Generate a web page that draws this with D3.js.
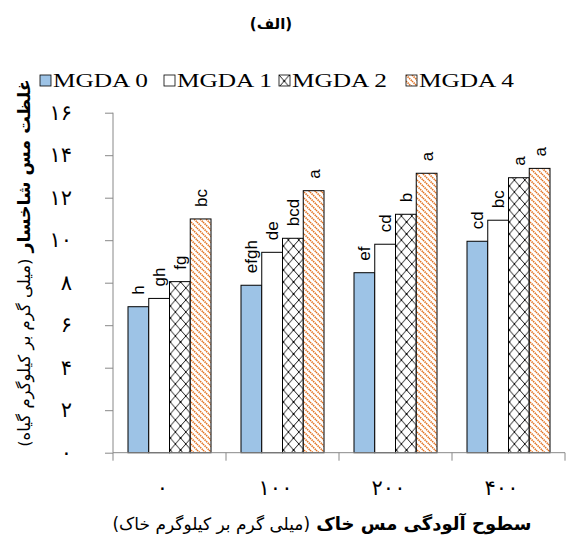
<!DOCTYPE html>
<meta charset="utf-8">
<style>
body { margin: 0; background: #fff; }
svg { display: block; }
.fa { font-family: "DejaVu Sans", sans-serif; }
</style>
<svg id="chart" width="568" height="538"></svg>
<script src="https://cdn.jsdelivr.net/npm/d3@7"></script>
<script>

var groups = ["0", "100", "200", "400"],
    series = ["MGDA 0", "MGDA 1", "MGDA 2", "MGDA 4"];

// shoot copper concentration, one array per series
var mgda0 = [6.87, 7.88, 8.47, 9.95],
    mgda1 = [7.26, 9.43, 9.81, 10.94],
    mgda2 = [8.05, 10.09, 11.22, 12.94],
    mgda4 = [11.0, 12.33, 13.15, 13.38];

var letters0 = ["h", "efgh", "ef", "cd"],
    letters1 = ["gh", "de", "cd", "bc"],
    letters2 = ["fg", "bcd", "b", "a"],
    letters4 = ["bc", "a", "a", "a"];

var yTicks = [0, 2, 4, 6, 8, 10, 12, 14, 16];

var values = [mgda0, mgda1, mgda2, mgda4],
    letters = [letters0, letters1, letters2, letters4];

function fa(s) {
  return String(s).replace(/[0-9]/g, function(c) { return "۰۱۲۳۴۵۶۷۸۹"[+c]; });
}

var svg = d3.select("#chart");

var defs = svg.append("defs");

var cross = defs.append("pattern")
    .attr("id", "cross")
    .attr("patternUnits", "userSpaceOnUse")
    .attr("width", 10.4)
    .attr("height", 12);
cross.append("rect").attr("width", 10.4).attr("height", 12).attr("fill", "#fff");
cross.append("path")
    .attr("d", "M0,0 L10.4,12 M10.4,0 L0,12")
    .attr("stroke", "#000")
    .attr("stroke-width", 0.9);
cross.append("circle").attr("cx", 5.2).attr("cy", 6).attr("r", 1).attr("fill", "#000");

var stripe = defs.append("pattern")
    .attr("id", "stripe")
    .attr("patternUnits", "userSpaceOnUse")
    .attr("width", 6)
    .attr("height", 6);
stripe.append("rect").attr("width", 6).attr("height", 6).attr("fill", "#fff");
stripe.append("path")
    .attr("d", "M-1.5,-1.5 L7.5,7.5 M-1.5,4.5 L1.5,7.5 M4.5,-1.5 L7.5,1.5")
    .attr("stroke", "#e2701e")
    .attr("stroke-width", 1.6)
    .attr("stroke-dasharray", "1.4,0.8");

var fills = ["#9dc3e6", "#fff", "url(#cross)", "url(#stripe)"];

var x0 = d3.scaleBand().domain(groups).range([113, 565]);
var x1 = d3.scaleBand().domain(series).range([15, x0.bandwidth() - 15]);
var y = d3.scaleLinear().domain([0, 16]).range([452.7, 112.7]);

// title
svg.append("text")
    .attr("class", "fa")
    .attr("x", 271)
    .attr("y", 29)
    .attr("text-anchor", "middle")
    .attr("font-size", 15)
    .attr("font-weight", "bold")
    .text("(الف)");

// legend
var legend = svg.append("g").selectAll("g")
  .data(series)
  .enter().append("g")
    .attr("transform", function(d, i) { return "translate(" + [40, 164, 279, 406][i] + ",75)"; });

legend.append("rect")
    .attr("width", 11)
    .attr("height", 11)
    .attr("fill", function(d, i) { return fills[i]; })
    .attr("stroke", "#000")
    .attr("stroke-width", 0.8);

legend.append("text")
    .attr("x", 13)
    .attr("y", 12)
    .attr("font-family", "Liberation Serif, serif")
    .attr("font-size", 18.5)
    .attr("textLength", 95)
    .attr("lengthAdjust", "spacingAndGlyphs")
    .text(function(d) { return d; });

// y axis
var yAxis = svg.append("g")
    .attr("transform", "translate(113,0)")
    .call(d3.axisLeft(y).tickValues(yTicks).tickSize(8).tickPadding(33).tickFormat(fa));

yAxis.select(".domain").attr("stroke", "#888").attr("d", "M0," + y(16) + "V" + y(0));
yAxis.selectAll(".tick line").attr("stroke", "#888");
yAxis.selectAll(".tick text")
    .attr("font-family", "DejaVu Sans, sans-serif")
    .attr("font-size", 21)
    .attr("fill", "#000");

// bars
var group = svg.append("g").selectAll("g")
  .data(groups)
  .enter().append("g")
    .attr("transform", function(d) { return "translate(" + x0(d) + ",0)"; });

var bar = group.selectAll("g")
  .data(function(d, gi) {
    return series.map(function(s, si) {
      return {s: s, si: si, v: values[si][gi], l: letters[si][gi]};
    });
  })
  .enter().append("g");

bar.append("rect")
    .attr("x", function(d) { return x1(d.s); })
    .attr("y", function(d) { return y(d.v); })
    .attr("width", x1.bandwidth())
    .attr("height", function(d) { return y(0) - y(d.v); })
    .attr("fill", function(d) { return fills[d.si]; })
    .attr("stroke", "#000")
    .attr("stroke-width", 1);

bar.append("text")
    .attr("transform", function(d) {
      return "translate(" + (x1(d.s) + x1.bandwidth() / 2 + 6) + "," + (y(d.v) - 12) + ") rotate(-90)";
    })
    .attr("font-family", "Liberation Sans, Arial, sans-serif")
    .attr("font-size", 17)
    .text(function(d) { return d.l; });

// x axis
svg.append("line")
    .attr("x1", 113).attr("x2", 565)
    .attr("y1", y(0)).attr("y2", y(0))
    .attr("stroke", "#888");

svg.append("g").selectAll("line")
  .data(groups.concat(["end"]))
  .enter().append("line")
    .attr("x1", function(d) { return d === "end" ? x0.range()[1] : x0(d); })
    .attr("x2", function(d) { return d === "end" ? x0.range()[1] : x0(d); })
    .attr("y1", y(0))
    .attr("y2", y(0) + 8)
    .attr("stroke", "#888");

svg.append("g").selectAll("text")
  .data(groups)
  .enter().append("text")
    .attr("class", "fa")
    .attr("x", function(d) { return x0(d) + x0.bandwidth() / 2 - 7; })
    .attr("y", 495)
    .attr("text-anchor", "middle")
    .attr("font-size", 21)
    .text(function(d) { return fa(d); });

// axis titles
var xTitle = svg.append("text")
    .attr("class", "fa")
    .attr("x", 322)
    .attr("y", 530)
    .attr("text-anchor", "middle")
    .attr("direction", "rtl")
    .attr("font-size", 17);
xTitle.append("tspan").attr("font-weight", "bold").attr("font-size", 18).text("سطوح آلودگی مس خاک ");
xTitle.append("tspan").text("(میلی گرم بر کیلوگرم خاک)");

var yTitle = svg.append("text")
    .attr("class", "fa")
    .attr("transform", "translate(30,263) rotate(-90)")
    .attr("text-anchor", "middle")
    .attr("direction", "rtl")
    .attr("font-size", 16.5);
yTitle.append("tspan").attr("font-weight", "bold").attr("font-size", 17.5).text("غلظت مس شاخسار ");
yTitle.append("tspan").text("(میلی گرم بر کیلوگرم گیاه)");

</script>
